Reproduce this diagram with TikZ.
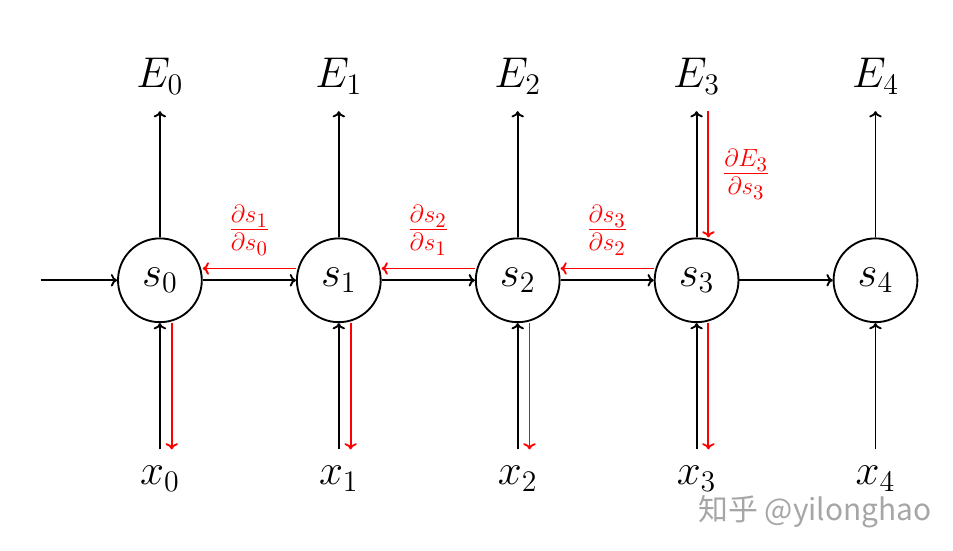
\documentclass[tikz,border=0pt]{standalone}
\usepackage{fontspec}
\newfontfamily\cjk{Noto Sans CJK SC}
\usetikzlibrary{positioning,arrows.meta}
\tikzset{
  state/.style={circle,draw=black,line width=0.9pt,minimum size=14.2mm,inner sep=0pt,font=\huge},
  lbl/.style={font=\huge,inner sep=8pt},
  fwd/.style={-{To[length=3pt,width=6pt]},line width=0.9pt},
  bwd/.style={-{To[length=3pt,width=6pt]},line width=0.9pt,draw=red},
  grad/.style={text=red,font=\LARGE,inner sep=2pt},
}
\begin{document}
\begin{tikzpicture}[node distance=15.8mm]
\useasboundingbox (-2.71,-4.58) rectangle (13.44,4.75);

% hidden states
\node[state] (s0) {$s_0$};
\node[state,right=of s0] (s1) {$s_1$};
\node[state,right=of s1] (s2) {$s_2$};
\node[state,right=of s2] (s3) {$s_3$};
\node[state,right=of s3] (s4) {$s_4$};
\coordinate[left=1.29cm of s0] (in);

% errors and inputs
\node[lbl,above=2.14cm of s0] (E0) {$E_0$};
\node[lbl,above=2.14cm of s1] (E1) {$E_1$};
\node[lbl,above=2.14cm of s2] (E2) {$E_2$};
\node[lbl,above=2.14cm of s3] (E3) {$E_3$};
\node[lbl,above=2.14cm of s4] (E4) {$E_4$};
\node[lbl,below=2.14cm of s0] (x0) {$x_0$};
\node[lbl,below=2.14cm of s1] (x1) {$x_1$};
\node[lbl,below=2.14cm of s2] (x2) {$x_2$};
\node[lbl,below=2.14cm of s3] (x3) {$x_3$};
\node[lbl,below=2.14cm of s4] (x4) {$x_4$};

% forward pass
\draw[fwd] (in) -- (s0);
\draw[fwd] (s0) -- (s1);
\draw[fwd] (s1) -- (s2);
\draw[fwd] (s2) -- (s3);
\draw[fwd] (s3) -- (s4);
\draw[fwd] (s0) -- (E0);
\draw[fwd] (s1) -- (E1);
\draw[fwd] (s2) -- (E2);
\draw[fwd] (s3) -- (E3);
\draw[fwd] (s4) -- (E4);
\draw[fwd] (x0) -- (s0);
\draw[fwd] (x1) -- (s1);
\draw[fwd] (x2) -- (s2);
\draw[fwd] (x3) -- (s3);
\draw[fwd] (x4) -- (s4);

% backward pass (gradients)
\draw[bwd] ([yshift=2mm]s1.west) -- ([yshift=2mm]s0.east)
  node[grad,midway,above=4pt] (d10) {$\frac{\partial s_1}{\partial s_0}$};
\draw[bwd] ([yshift=2mm]s2.west) -- ([yshift=2mm]s1.east)
  node[grad,midway,above=4pt] (d21) {$\frac{\partial s_2}{\partial s_1}$};
\draw[bwd] ([yshift=2mm]s3.west) -- ([yshift=2mm]s2.east)
  node[grad,midway,above=4pt] (d32) {$\frac{\partial s_3}{\partial s_2}$};
\draw[bwd] ([xshift=2mm]E3.south) -- ([xshift=2mm]s3.north)
  node[grad,midway,right=4pt] (dE3) {$\frac{\partial E_3}{\partial s_3}$};
\draw[bwd] ([xshift=2mm]s0.south) -- ([xshift=2mm]x0.north);
\draw[bwd] ([xshift=2mm]s1.south) -- ([xshift=2mm]x1.north);
\draw[bwd] ([xshift=2mm]s2.south) -- ([xshift=2mm]x2.north);
\draw[bwd] ([xshift=2mm]s3.south) -- ([xshift=2mm]x3.north);

% watermark
\node[text=black!35,font=\cjk\Large] (wm) at (11.1,-3.92) {知乎 @yilonghao};
\end{tikzpicture}
\end{document}
